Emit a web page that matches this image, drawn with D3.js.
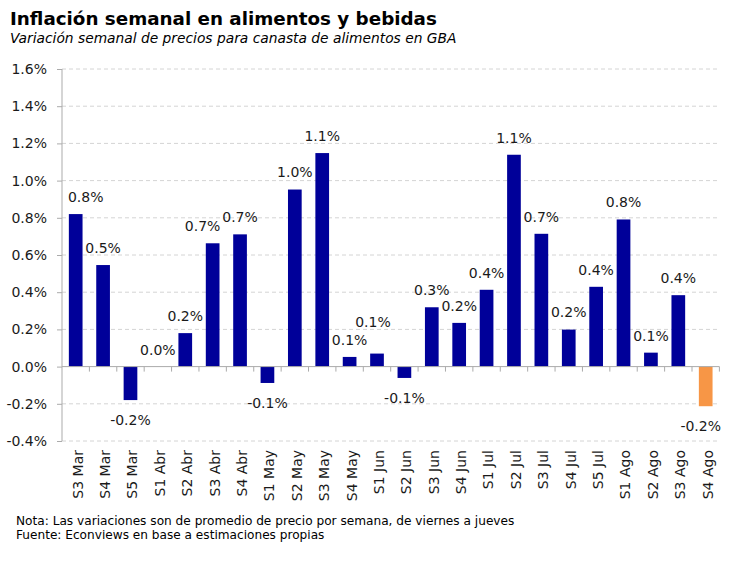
<!DOCTYPE html>
<html>
<head>
<meta charset="utf-8">
<script src="https://cdn.jsdelivr.net/npm/d3@7"></script>
<style>
  body { margin: 0; background: #fff; }
  svg text { font-family: "DejaVu Sans", Verdana, sans-serif; fill: #1a1a1a; }
</style>
</head>
<body>
<svg id="chart" width="730" height="561"></svg>
<script>
// semanas relevadas
var weeks = ["S3 Mar", "S4 Mar", "S5 Mar", "S1 Abr", "S2 Abr", "S3 Abr", "S4 Abr",
  "S1 May", "S2 May", "S3 May", "S4 May", "S1 Jun", "S2 Jun", "S3 Jun", "S4 Jun",
  "S1 Jul", "S2 Jul", "S3 Jul", "S4 Jul", "S5 Jul", "S1 Ago", "S2 Ago", "S3 Ago", "S4 Ago"];
// variacion semanal (%)
var weeklyChange = [0.82, 0.546, -0.18, 0.0, 0.18, 0.663, 0.711,
  -0.088, 0.952, 1.148, 0.052, 0.07, -0.061, 0.319, 0.235,
  0.413, 1.139, 0.714, 0.199, 0.429, 0.791, 0.075, 0.384, -0.213];
var yTicks = [-0.4, -0.2, 0.0, 0.2, 0.4, 0.6, 0.8, 1.0, 1.2, 1.4, 1.6];
var lastWeek = "S4 Ago";

var title = "Inflación semanal en alimentos y bebidas";
var subtitle = "Variación semanal de precios para canasta de alimentos en GBA";
var notes = ["Nota: Las variaciones son de promedio de precio por semana, de viernes a jueves",
  "Fuente: Econviews en base a estimaciones propias"];

// etiquetas corridas a mano como en el original
var labelNudge = { "S3 Mar": [10, 0], "S3 Abr": [-10, 0], "S1 Jun": [-4, -14], "S4 Ago": [-5, 0] };

var data = weeks.map(function(w, i) { return { week: w, value: weeklyChange[i] }; });

var svg = d3.select("#chart");
var plotL = 62, plotR = 719.4, plotT = 69, plotB = 441;

var x = d3.scaleBand().domain(weeks).range([plotL, plotR]).paddingInner(0.5).paddingOuter(0.25);
var y = d3.scaleLinear().domain([-0.4, 1.6]).range([plotB, plotT]);
var loc = d3.formatLocale({ decimal: ".", thousands: ",", grouping: [3], currency: ["$", ""], minus: "-" });
var fmt = loc.format(".1f");
var pct = function(v) { return fmt(v) + "%"; };

function fit(sel, w) {
  var fs = parseFloat(sel.style("font-size"));
  var len = sel.node().getComputedTextLength();
  sel.style("font-size", (fs * w / len) + "px");
}

// titulos
var t = svg.append("text").attr("x", 10).attr("y", 25)
  .style("font-weight", "bold").style("font-size", "20px").style("fill", "#000").text(title);
fit(t, 427);
var st = svg.append("text").attr("x", 10).attr("y", 43)
  .style("font-style", "italic").style("font-size", "14px").style("fill", "#000").text(subtitle);
fit(st, 447);

// grilla
svg.append("g").selectAll("line")
  .data(yTicks.filter(function(d) { return d !== 0; }))
  .enter().append("line")
    .attr("x1", plotL).attr("x2", plotR)
    .attr("y1", function(d) { return y(d); })
    .attr("y2", function(d) { return y(d); })
    .style("stroke", "#d4d4d4")
    .style("stroke-dasharray", "4,3");

// eje y
var yAxis = svg.append("g").attr("transform", "translate(" + plotL + ",0)")
  .call(d3.axisLeft(y).tickValues(yTicks).tickSize(5).tickPadding(10).tickFormat(pct));
yAxis.select(".domain").attr("d", "M0," + plotT + "V" + plotB);
yAxis.selectAll("line, .domain").style("stroke", "#ababab");
yAxis.selectAll("text").style("font-size", "14px").style("fill", "#1a1a1a");
yAxis.attr("font-family", null).attr("font-size", null);

// barras
svg.append("g").selectAll("rect")
  .data(data)
  .enter().append("rect")
    .attr("x", function(d) { return x(d.week); })
    .attr("width", x.bandwidth())
    .attr("y", function(d) { return y(Math.max(0, d.value)); })
    .attr("height", function(d) { return Math.abs(y(d.value) - y(0)); })
    .style("fill", function(d) { return d.week === lastWeek ? "#f79646" : "#000099"; });

// eje x en el cero
var xAxis = svg.append("g").attr("transform", "translate(0," + y(0) + ")");
xAxis.append("line").attr("x1", plotL).attr("x2", plotR).style("stroke", "#ababab");
xAxis.selectAll(".tk")
  .data(weeks)
  .enter().append("line")
    .attr("class", "tk")
    .attr("x1", function(d) { return x(d) + x.bandwidth() * 1.5; })
    .attr("x2", function(d) { return x(d) + x.bandwidth() * 1.5; })
    .attr("y1", 0).attr("y2", 5)
    .style("stroke", "#ababab");

// etiquetas de categorias
svg.append("g").selectAll("text")
  .data(weeks)
  .enter().append("text")
    .attr("transform", function(d) {
      return "translate(" + (x(d) + x.bandwidth() / 2 + 2) + "," + (plotB + 9) + ") rotate(-90)";
    })
    .attr("dy", "0.35em")
    .attr("text-anchor", "end")
    .style("font-size", "14px")
    .text(function(d) { return d; });

// etiquetas de valores
svg.append("g").selectAll("text")
  .data(data)
  .enter().append("text")
    .attr("x", function(d) {
      var n = labelNudge[d.week] || [0, 0];
      return x(d.week) + x.bandwidth() / 2 + n[0];
    })
    .attr("y", function(d) {
      var n = labelNudge[d.week] || [0, 0];
      return (d.value >= 0 ? y(d.value) - 17 : y(d.value) + 20) + n[1];
    })
    .attr("dy", "0.35em")
    .attr("text-anchor", "middle")
    .style("font-size", "14px")
    .text(function(d) { return pct(d.value); });

// notas
notes.forEach(function(s, i) {
  var n = svg.append("text").attr("x", 16).attr("y", 525 + i * 14)
    .style("font-size", "12px").style("fill", "#000").text(s);
  fit(n, i === 0 ? 499 : 309);
});
</script>
</body>
</html>
